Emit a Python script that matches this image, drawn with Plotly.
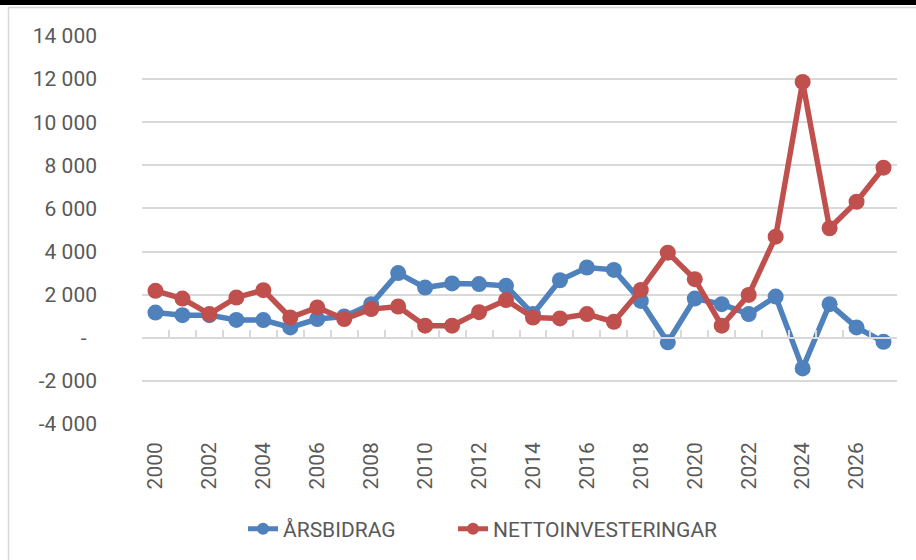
import plotly.graph_objects as go

years = list(range(2000, 2028))
arsbidrag = [1170, 1050, 1050, 830, 820, 480, 870, 990, 1560, 3000,
             2330, 2520, 2490, 2410, 1100, 2670, 3260, 3150, 1710, -210,
             1820, 1560, 1100, 1910, -1420, 1560, 480, -190]
nettoinv = [2180, 1820, 1100, 1870, 2210, 940, 1410, 870, 1330, 1450,
            560, 560, 1190, 1750, 940, 900, 1100, 740, 2220, 3950,
            2720, 560, 1990, 4690, 11870, 5080, 6310, 7890]
series_names = ["ÅRSBIDRAG", "NETTOINVESTERINGAR"]
ytick_vals = [-4000, -2000, 0, 2000, 4000, 6000, 8000, 10000, 12000, 14000]
ytick_text = ["-4 000", "-2 000", "-\u00a0\u00a0", "2 000", "4 000", "6 000",
              "8 000", "10 000", "12 000", "14 000"]
xtick_vals = list(range(2000, 2027, 2))

BLUE = "#4f81bd"
RED = "#c0504d"
GRID = "#d9d9d9"
TXT = "#595959"
FONT = "Roboto"

W, H = 916, 560
L, R, T, B = 142, 19, 36, 135
pw, ph = W - L - R, H - T - B

def px(x):
    return (x - L) / pw

def py(y):
    return (H - B - y) / ph

fig = go.Figure()
fig.add_trace(go.Scatter(x=years, y=arsbidrag, name=series_names[0], mode="lines+markers",
                         line=dict(color=BLUE, width=5.5), marker=dict(size=16, color=BLUE),
                         legend="legend"))
fig.add_trace(go.Scatter(x=years, y=nettoinv, name=series_names[1], mode="lines+markers",
                         line=dict(color=RED, width=5.5), marker=dict(size=16, color=RED),
                         legend="legend2"))
fig.add_trace(go.Scatter(x=[], y=[], xaxis="x2", showlegend=False, hoverinfo="skip"))

ymin, ymax = ytick_vals[0], ytick_vals[-1]
xr = [years[0] - 0.5, years[-1] + 0.5]

legend_style = dict(orientation="h", xanchor="left", y=py(529), yanchor="middle",
                    font=dict(family=FONT, size=21, color=TXT), bgcolor="rgba(0,0,0,0)",
                    itemsizing="constant")

fig.update_layout(
    width=W, height=H,
    margin=dict(l=L, r=R, t=T, b=B),
    paper_bgcolor="white", plot_bgcolor="white",
    font=dict(family=FONT, size=21, color=TXT),
    xaxis=dict(range=xr, tickmode="array", tickvals=xtick_vals, ticktext=[str(v) for v in xtick_vals],
               tickangle=-90, showgrid=False, zeroline=False, showline=False, ticks="",
               ticklabelstandoff=13, tickfont=dict(family=FONT, size=21, color=TXT)),
    xaxis2=dict(overlaying="x", matches="x", range=xr, anchor="free",
                position=(0 - ymin) / (ymax - ymin), side="bottom",
                tickmode="linear", tick0=years[0] - 0.5, dtick=1,
                ticks="inside", ticklen=7, tickcolor=GRID, tickwidth=1.5,
                showticklabels=False, showgrid=False, zeroline=False,
                showline=True, linecolor=GRID, linewidth=1.5),
    yaxis=dict(range=[ymin, ymax], tickmode="array", tickvals=ytick_vals, ticktext=ytick_text,
               showgrid=True, gridcolor=GRID, gridwidth=1.5, zeroline=False, showline=False,
               ticks="", ticklabelstandoff=44, tickfont=dict(family=FONT, size=21, color=TXT)),
    showlegend=True,
    legend=dict(x=px(243), **legend_style),
    legend2=dict(x=px(453), **legend_style),
    shapes=[
        dict(type="rect", xref="paper", yref="paper", x0=px(8.5), x1=px(940), y0=py(575), y1=py(7.5),
             line=dict(color=GRID, width=1.5), fillcolor="rgba(0,0,0,0)", layer="below"),
        dict(type="rect", xref="paper", yref="paper", x0=px(-5), x1=px(925), y0=py(5), y1=py(-5),
             line=dict(width=0), fillcolor="black", layer="above"),
    ],
)

fig.write_html("out.html", config={"displayModeBar": False},
               post_script="document.body.style.margin='0';")
